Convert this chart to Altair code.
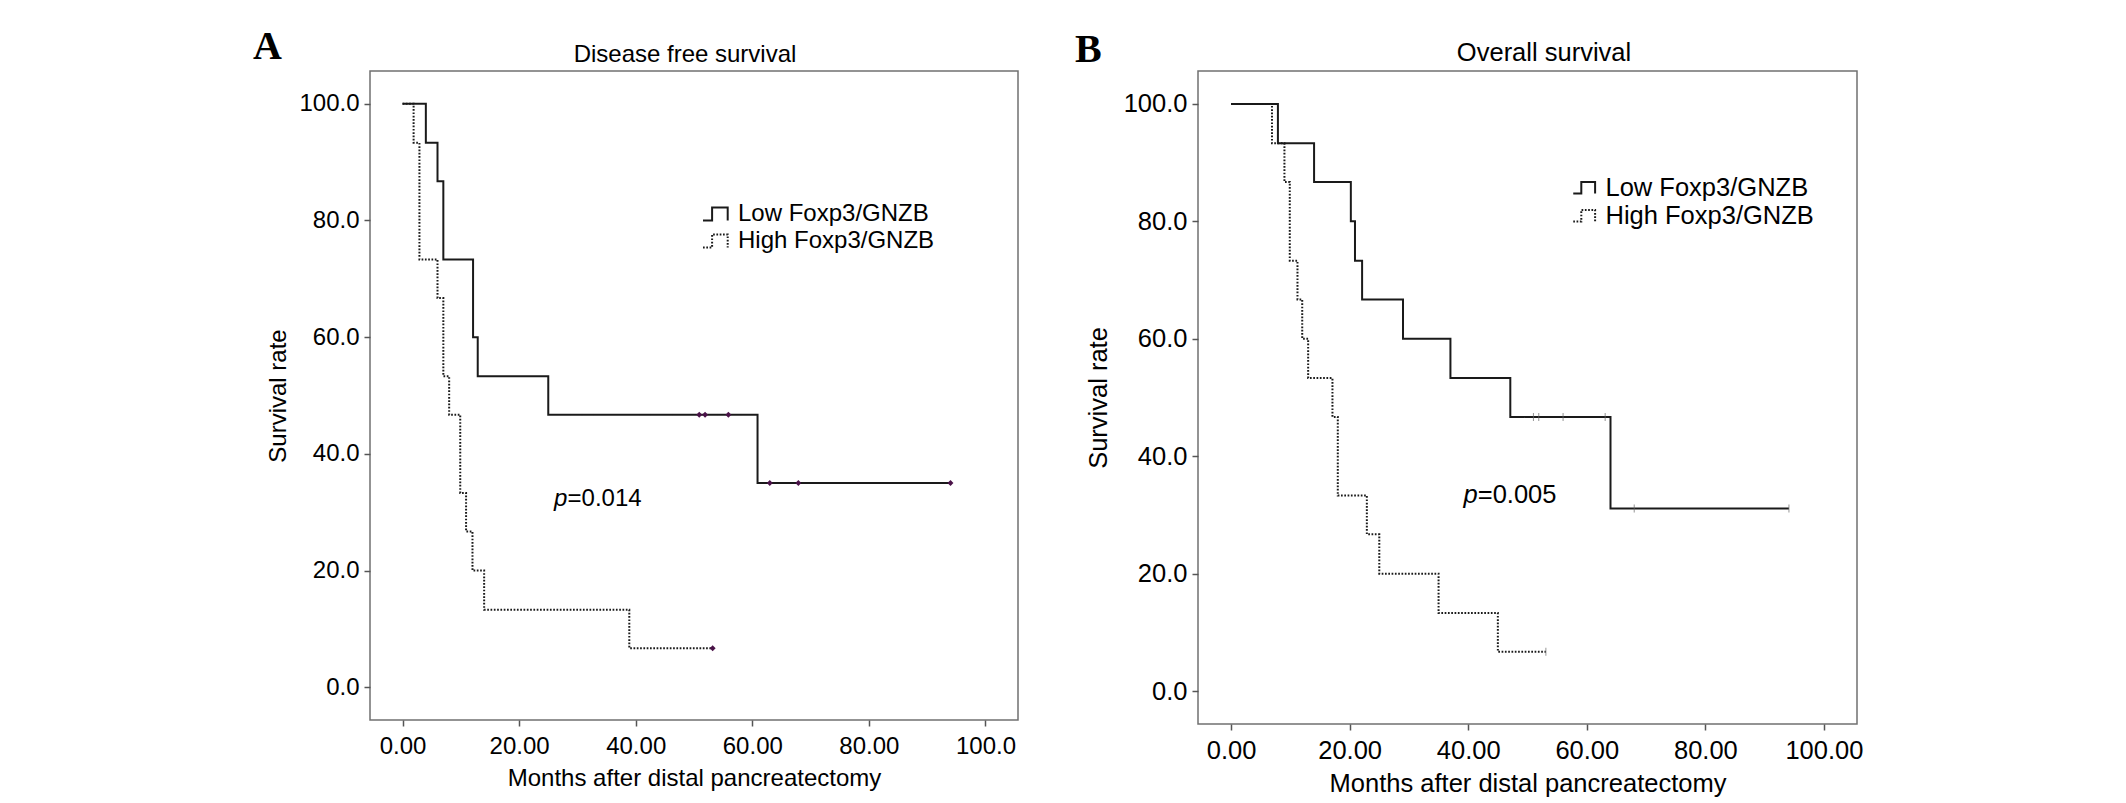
import altair as alt
import pandas as pd

GROUPS = ["Low Foxp3/GNZB", "High Foxp3/GNZB"]

# Panel A: disease free survival (months, survival %)
A_LOW_T = [0, 4.0, 6.0, 7.0, 12.1, 12.9, 25.0, 60.9, 94.0]
A_LOW_S = [100, 93.3, 86.7, 73.3, 60.0, 53.3, 46.7, 35.0, 35.0]
A_HIGH_T = [0, 1.9, 2.9, 6.0, 7.0, 8.0, 9.9, 10.9, 12.0, 14.0, 38.9, 53.2]
A_HIGH_S = [100, 93.3, 73.3, 66.7, 53.3, 46.7, 33.3, 26.7, 20.0, 13.3, 6.7, 6.7]
A_CENSOR_T = [50.9, 51.9, 55.9, 63.0, 67.9, 94.0, 53.2]
A_CENSOR_S = [46.7, 46.7, 46.7, 35.0, 35.0, 35.0, 6.7]

# Panel B: overall survival
B_LOW_T = [0, 7.9, 14.0, 20.2, 20.9, 22.1, 29.0, 37.0, 47.1, 64.0, 94.1]
B_LOW_S = [100, 93.3, 86.7, 80.0, 73.3, 66.7, 60.0, 53.3, 46.7, 31.1, 31.1]
B_HIGH_T = [0, 6.9, 9.0, 9.9, 11.2, 12.0, 13.0, 17.1, 18.0, 22.9, 25.0, 35.0, 45.0, 53.1]
B_HIGH_S = [100, 93.3, 86.7, 73.3, 66.7, 60.0, 53.3, 46.7, 33.3, 26.7, 20.0, 13.3, 6.7, 6.7]
B_CENSOR_T = [51.0, 51.9, 56.0, 63.1, 68.0, 94.1, 53.1]
B_CENSOR_S = [46.7, 46.7, 46.7, 46.7, 31.1, 31.1, 6.7]

TICKS = [0, 20, 40, 60, 80, 100]
FONT = "Liberation Sans"
LINE = "#1a1a1a"
STEP_SYMBOL = "M-1,0.5L-0.3,0.5L-0.3,-0.5L0.9,-0.5L0.9,0.5"


def curves(low_t, low_s, high_t, high_s):
    low = pd.DataFrame({"t": low_t, "s": low_s, "group": GROUPS[0]})
    high = pd.DataFrame({"t": high_t, "s": high_s, "group": GROUPS[1]})
    return pd.concat([low, high], ignore_index=True)


def panel(letter, title, df, cens, pval, pxy, w, h, fs, leg, sym, last_lbl,
          title_xy, letter_xy, yext, ytp, xext, xtp, censor_mark):
    xs = alt.Scale(domain=[-5.58, 105.58], nice=False, zero=False)
    ys = alt.Scale(domain=[-5.6, 105.6], nice=False, zero=False)
    xaxis = alt.Axis(values=TICKS, title="Months after distal pancreatectomy",
                     labelExpr=f"datum.value == 100 ? '{last_lbl}' : format(datum.value, '.2f')",
                     labelFontSize=fs, titleFontSize=fs, labelPadding=8,
                     minExtent=xext, maxExtent=xext, titlePadding=xtp)
    yaxis = alt.Axis(values=TICKS, title="Survival rate", format=".1f",
                     labelFontSize=fs, titleFontSize=fs, labelPadding=5,
                     minExtent=yext, maxExtent=yext, titlePadding=ytp)

    lines = alt.Chart(df).mark_line(interpolate="step-after", color=LINE, strokeWidth=2).encode(
        x=alt.X("t:Q", scale=xs, axis=xaxis),
        y=alt.Y("s:Q", scale=ys, axis=yaxis),
        strokeDash=alt.StrokeDash(
            "group:N",
            scale=alt.Scale(domain=GROUPS, range=[[1, 0], [1.7, 1.6]]),
            legend=alt.Legend(title=None, orient="none", legendX=leg[0], legendY=leg[1],
                              symbolType=STEP_SYMBOL, symbolSize=sym, symbolStrokeWidth=2,
                              symbolStrokeColor=LINE, symbolFillColor="transparent",
                              labelFont=FONT, labelFontSize=fs, labelColor="black",
                              labelLimit=500, labelOffset=8, rowPadding=1, padding=0),
        ),
    )

    if censor_mark:
        censor = alt.Chart(cens).mark_point(**censor_mark)
    else:
        censor = alt.Chart(cens).mark_tick(orient="vertical", size=8, thickness=1, color="#666666")
    censor = censor.encode(x=alt.X("t:Q", scale=xs), y=alt.Y("s:Q", scale=ys))

    pdf = pd.DataFrame({"x": [pxy[0]], "y": [pxy[1]], "p": ["p"], "v": [pval]})
    ptxt = alt.Chart(pdf).mark_text(align="left", baseline="alphabetic", font=FONT,
                                    fontSize=fs, fontStyle="italic", color="black").encode(
        x=alt.X("x:Q", scale=xs), y=alt.Y("y:Q", scale=ys), text="p:N")
    vtxt = alt.Chart(pdf).mark_text(align="left", baseline="alphabetic", font=FONT,
                                    fontSize=fs, color="black", dx=fs * 0.56).encode(
        x=alt.X("x:Q", scale=xs), y=alt.Y("y:Q", scale=ys), text="v:N")

    lab = alt.Chart(pd.DataFrame({"letter": [letter]})).mark_text(
        align="left", baseline="alphabetic", font="Liberation Serif", fontWeight="bold",
        fontSize=40, color="black").encode(
        x=alt.value(letter_xy[0]), y=alt.value(letter_xy[1]), text="letter:N")

    ttl = alt.Chart(pd.DataFrame({"title": [title]})).mark_text(
        align="center", baseline="alphabetic", font=FONT, fontSize=fs, color="black").encode(
        x=alt.value(title_xy[0]), y=alt.value(title_xy[1]), text="title:N")

    return alt.layer(lines, censor, ptxt, vtxt, lab, ttl).properties(width=w, height=h)


a_df = curves(A_LOW_T, A_LOW_S, A_HIGH_T, A_HIGH_S)
b_df = curves(B_LOW_T, B_LOW_S, B_HIGH_T, B_HIGH_S)
a_cens = pd.DataFrame({"t": A_CENSOR_T, "s": A_CENSOR_S})
b_cens = pd.DataFrame({"t": B_CENSOR_T, "s": B_CENSOR_S})

chart_a = panel("A", "Disease free survival", a_df, a_cens, "=0.014", (26.0, 31.1),
                648, 649, 24, (332, 129), 676, "100.0", (315, -9), (-117, -12), 71, 9, 38, 8,
                {"shape": "diamond", "filled": True, "size": 35, "color": "#4a1248", "opacity": 1})
chart_b = panel("B", "Overall survival", b_df, b_cens, "=0.005", (39.2, 32.0),
                659, 653, 25.5, (374, 104), 529, "100.00", (346, -10.3), (-123, -9), 75, 12, 39, 8.5,
                {})

chart = alt.hconcat(chart_a, chart_b, spacing=55).resolve_scale(
    strokeDash="independent"
).resolve_legend(strokeDash="independent").configure_view(
    stroke="#707070", strokeWidth=1.5
).configure_axis(
    grid=False, domain=False, tickColor="#555555", tickWidth=1.5, tickSize=6,
    labelColor="black", titleColor="black", labelFont=FONT, titleFont=FONT,
    titleFontWeight="normal",
).properties(
    padding={"left": 244, "top": 18, "right": 10, "bottom": 2},
    background="white",
)

chart.save("out.html", embed_options={"renderer": "svg", "actions": False})
